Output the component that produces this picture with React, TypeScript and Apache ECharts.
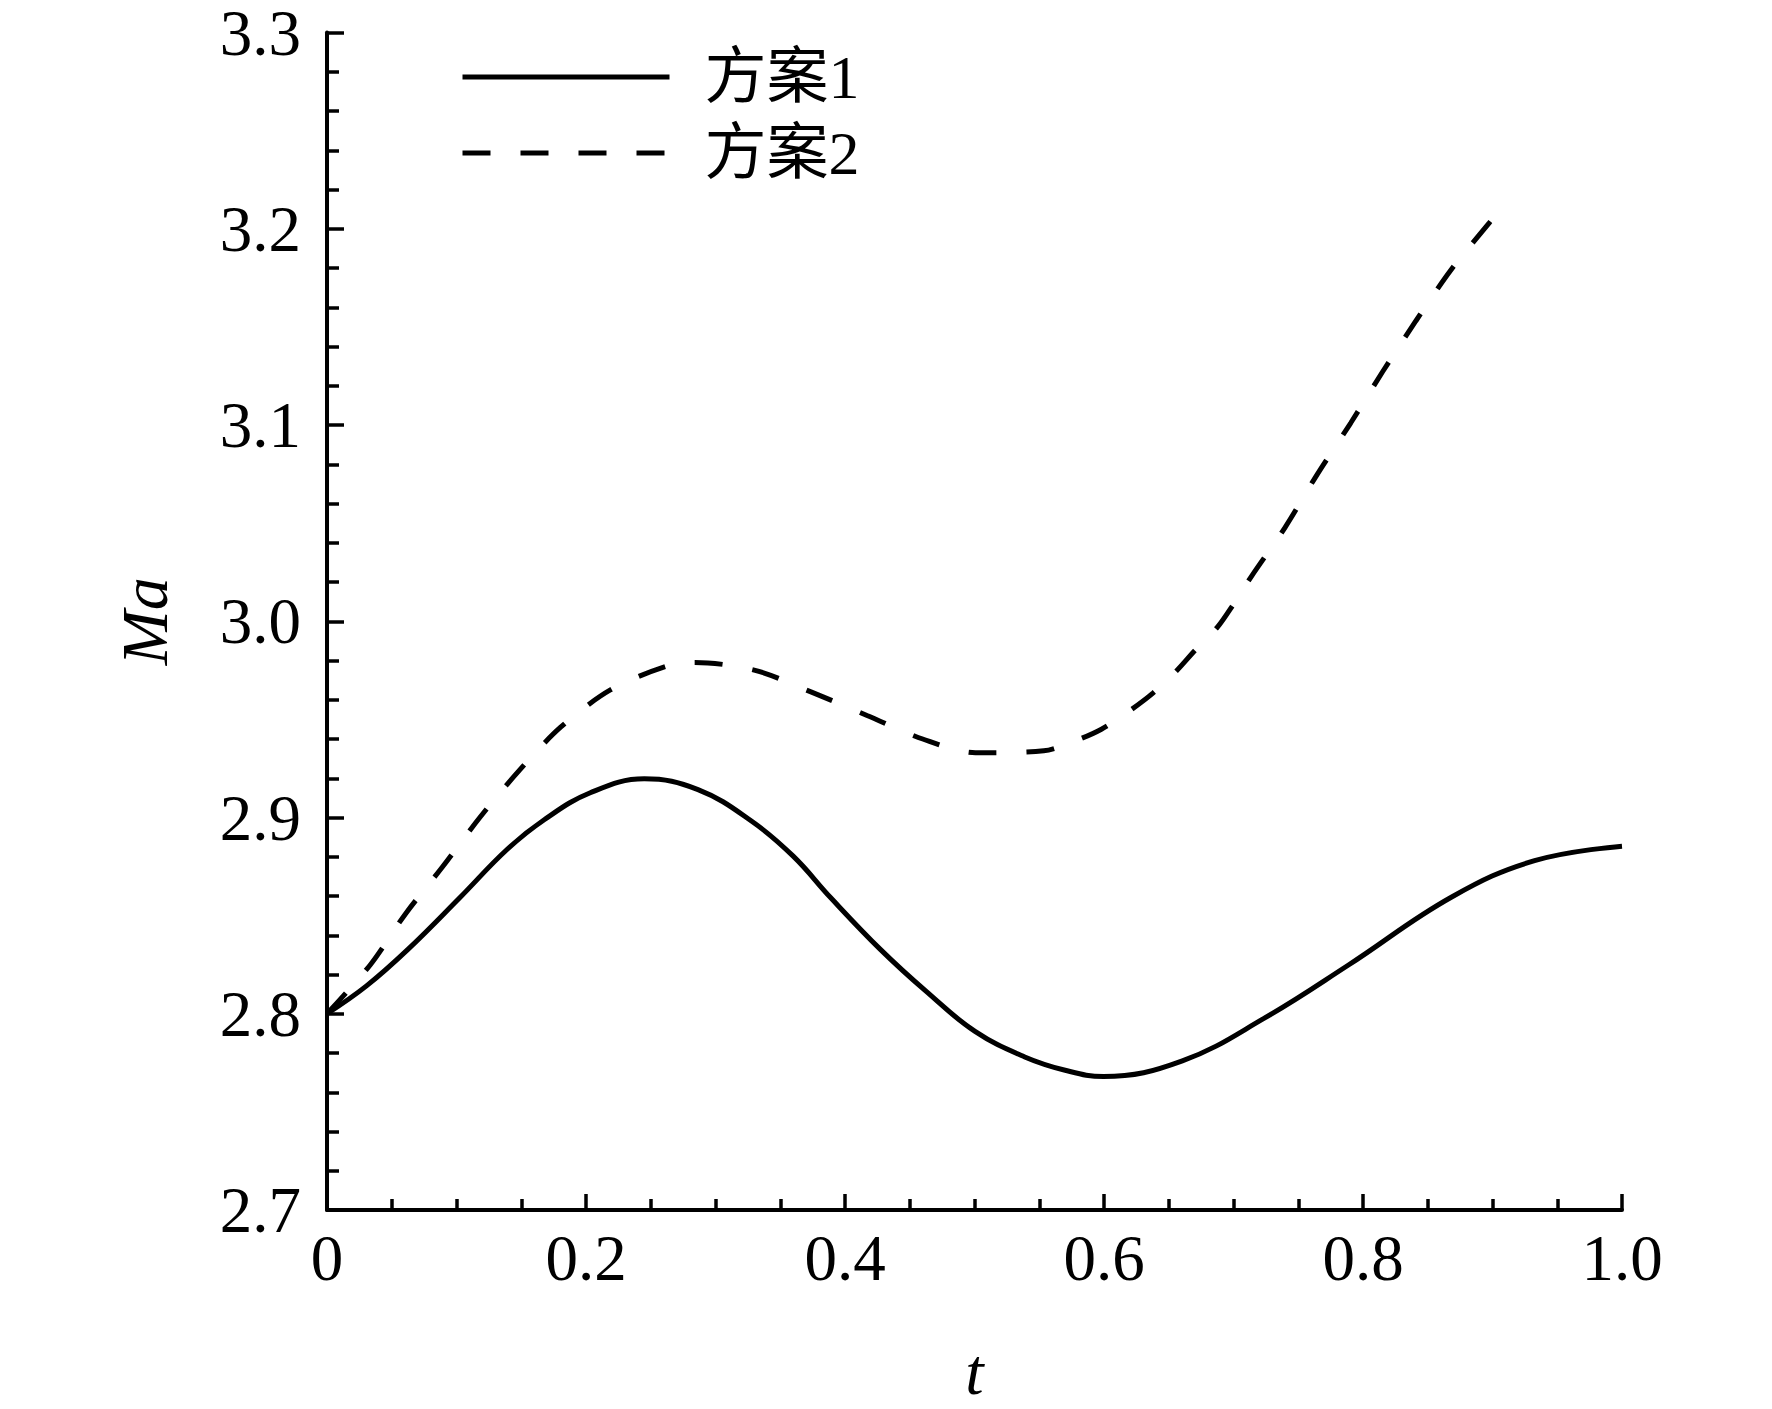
import React, { useEffect, useRef } from "react";
import * as echarts from "echarts";

// t values and Ma values
const scheme1T = [0, 0.0305, 0.0625, 0.1025, 0.139, 0.168, 0.2033, 0.245, 0.2865, 0.328, 0.36, 0.389, 0.4273, 0.4625, 0.5004, 0.5388, 0.57, 0.5996, 0.6605, 0.7245, 0.7885, 0.8685, 0.9325, 1.0];
const scheme1Ma = [2.8, 2.8142, 2.8328, 2.8591, 2.8837, 2.899, 2.9126, 2.9197, 2.9142, 2.8981, 2.8803, 2.8591, 2.8328, 2.8115, 2.791, 2.778, 2.7712, 2.768, 2.776, 2.798, 2.8247, 2.8595, 2.878, 2.8854];

const scheme2T = [0, 0.0335, 0.0607, 0.0894, 0.118, 0.1485, 0.1804, 0.2188, 0.2619, 0.284, 0.3306, 0.3737, 0.417, 0.46, 0.5008, 0.5535, 0.5775, 0.598, 0.619, 0.638, 0.6556, 0.67, 0.6876, 0.7003, 0.714, 0.74, 0.7648, 0.7905, 0.815, 0.8408, 0.8679, 0.8975, 0.909];
const scheme2Ma = [2.8, 2.825, 2.851, 2.875, 2.9, 2.924, 2.946, 2.965, 2.977, 2.979, 2.975, 2.964, 2.952, 2.94, 2.933, 2.934, 2.939, 2.945, 2.954, 2.9635, 2.9745, 2.985, 2.997, 3.009, 3.023, 3.048, 3.075, 3.101, 3.127, 3.153, 3.179, 3.203, 3.212];

const seriesNames = ["方案1", "方案2"];
const xTickLabels = ["0", "0.2", "0.4", "0.6", "0.8", "1.0"];
const yTickLabels = ["2.7", "2.8", "2.9", "3.0", "3.1", "3.2", "3.3"];

const FONT = "'Liberation Serif', 'Times New Roman', 'Noto Sans CJK SC', serif";

export default function App() {
  const ref = useRef<HTMLDivElement>(null);
  useEffect(() => {
    if (!ref.current) return;
    const chart = echarts.init(ref.current, undefined, { renderer: "svg" });
    const pair = (ts: number[], vs: number[]) => ts.map((t, i) => [t, vs[i]]);
    const axisCommon = {
      axisLine: { show: true, onZero: false, lineStyle: { color: "#000", width: 4 } },
      splitLine: { show: false },
    };
    chart.setOption({
      animation: false,
      backgroundColor: "#fff",
      color: ["#000", "#000"],
      grid: { left: 327, right: 150, top: 31, bottom: 198, containLabel: false },
      legend: {
        orient: "vertical",
        left: 460,
        top: 46,
        padding: 0,
        itemGap: 14,
        itemWidth: 207,
        itemHeight: 20,
        data: seriesNames,
        itemStyle: { opacity: 0, color: "#000", borderWidth: 0 },
        lineStyle: { width: 5, color: "#000" },
        textStyle: {
          fontFamily: FONT,
          fontSize: 62,
          lineHeight: 62,
          color: "#000",
          padding: [0, 0, 0, 30],
        },
      },
      xAxis: {
        type: "value",
        min: 0,
        max: 1,
        interval: 0.2,
        ...axisCommon,
        name: "t",
        nameLocation: "middle",
        nameGap: 128,
        nameTextStyle: { fontFamily: FONT, fontSize: 66, fontStyle: "italic", color: "#000" },
        axisTick: { show: true, inside: true, length: 16, lineStyle: { color: "#000", width: 3.5 } },
        minorTick: { show: true, splitNumber: 4, length: 11, lineStyle: { color: "#000", width: 3.5 } },
        axisLabel: {
          margin: 22,
          fontFamily: FONT,
          fontSize: 65,
          lineHeight: 52,
          color: "#000",
          formatter: (v: number) => xTickLabels[Math.round(v / 0.2)] ?? "",
        },
      },
      yAxis: {
        type: "value",
        min: 2.7,
        max: 3.3,
        interval: 0.1,
        ...axisCommon,
        name: "Ma",
        nameLocation: "middle",
        nameGap: 150,
        nameTextStyle: { fontFamily: FONT, fontSize: 66, fontStyle: "italic", color: "#000" },
        axisTick: { show: true, inside: true, length: 17, lineStyle: { color: "#000", width: 3.5 } },
        minorTick: { show: true, splitNumber: 5, length: 12, lineStyle: { color: "#000", width: 3.5 } },
        axisLabel: {
          margin: 26,
          fontFamily: FONT,
          fontSize: 65,
          lineHeight: 52,
          color: "#000",
          formatter: (v: number) => yTickLabels[Math.round((v - 2.7) / 0.1)] ?? "",
        },
      },
      series: [
        {
          name: seriesNames[0],
          type: "line",
          data: pair(scheme1T, scheme1Ma),
          smooth: 0.4,
          showSymbol: false,
          symbol: "none",
          itemStyle: { color: "#000" },
          lineStyle: { color: "#000", width: 5, type: "solid" },
        },
        {
          name: seriesNames[1],
          type: "line",
          data: pair(scheme2T, scheme2Ma),
          smooth: 0.3,
          showSymbol: false,
          symbol: "none",
          itemStyle: { color: "#000" },
          lineStyle: { color: "#000", width: 5, type: [28, 30] },
        },
      ],
    });
    return () => chart.dispose();
  }, []);
  return (
    <div
      ref={ref}
      style={{ position: "absolute", left: 0, top: 0, width: 1772, height: 1409, background: "#fff" }}
    />
  );
}
